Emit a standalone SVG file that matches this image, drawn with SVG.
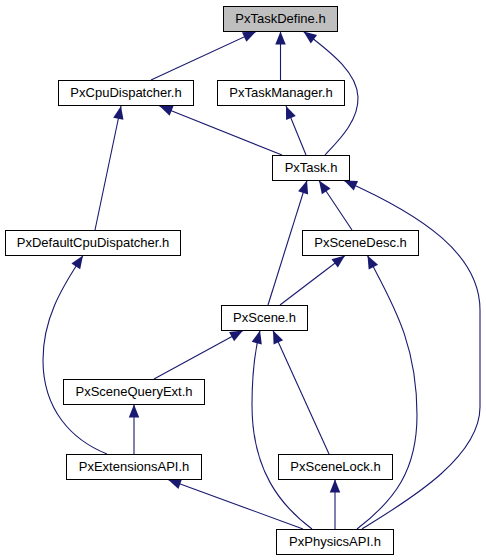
<svg xmlns="http://www.w3.org/2000/svg" width="486" height="560" viewBox="0 0 486 560">
<style>
.n rect{fill:#ffffff;stroke:#000000;stroke-width:1}
.n.root rect{fill:#bfbfbf}
.n text{font-family:"Liberation Sans",Arial,sans-serif;font-size:13px;fill:#000000;text-anchor:middle}
.e path{fill:none;stroke:#191970;stroke-width:1.1;marker-end:url(#ah)}
</style>
<defs>
<marker id="ah" markerUnits="userSpaceOnUse" markerWidth="14" markerHeight="12" refX="13" refY="5.25" orient="auto" overflow="visible">
<polygon points="0,0 13,5.25 0,10.5" fill="#191970"/>
</marker>
</defs>
<rect width="486" height="560" fill="#ffffff"/>
<g id="edges" class="e">
<path d="M151,80 L256,31.5"/>
<path d="M280.5,80 L280.5,31.5"/>
<path d="M325,155 C336,143 359,122 358,97 C357,74 335,55 303.5,31.5"/>
<path d="M282,155 L159.5,106"/>
<path d="M306,155 L286,106"/>
<path d="M95,230 L121,106"/>
<path d="M352,230 L319,180.5"/>
<path d="M268,305 L307,180.5"/>
<path d="M362,529 C400,505 480,460 480,407 L480,310 C480,255 424,216 344,180.5"/>
<path d="M280,305 L345,255.5"/>
<path d="M357,529 C395,500 417,470 417,415 C417,340 390,300 367.5,255.5"/>
<path d="M107,454 C72,440 43,410 43,360 C43,320 60,290 83,255.5"/>
<path d="M154,379 L243,330.5"/>
<path d="M312,529 C280,505 252,470 252,405 C252,370 255,350 260,330.5"/>
<path d="M329,454 L273,330.5"/>
<path d="M134,454 L134,404.5"/>
<path d="M303,529 L168,479.5"/>
<path d="M335,529 L335,479.5"/>
</g>
<g id="PxTaskDefine" class="n root"><rect x="223.5" y="6.5" width="114" height="25"/><text x="280.5" y="22.5">PxTaskDefine.h</text></g>
<g id="PxCpuDispatcher" class="n"><rect x="58.5" y="80.5" width="135" height="25"/><text x="126" y="96.5">PxCpuDispatcher.h</text></g>
<g id="PxTaskManager" class="n"><rect x="217.5" y="80.5" width="127" height="25"/><text x="281" y="96.5">PxTaskManager.h</text></g>
<g id="PxTask" class="n"><rect x="272.5" y="155.5" width="77" height="25"/><text x="311" y="171.5">PxTask.h</text></g>
<g id="PxDefaultCpuDispatcher" class="n"><rect x="5.5" y="230.5" width="175" height="25"/><text x="93" y="246.5">PxDefaultCpuDispatcher.h</text></g>
<g id="PxSceneDesc" class="n"><rect x="302.5" y="230.5" width="116" height="25"/><text x="360.5" y="246.5">PxSceneDesc.h</text></g>
<g id="PxScene" class="n"><rect x="221.5" y="305.5" width="86" height="25"/><text x="264.5" y="321.5">PxScene.h</text></g>
<g id="PxSceneQueryExt" class="n"><rect x="63.5" y="379.5" width="141" height="25"/><text x="134" y="395.5">PxSceneQueryExt.h</text></g>
<g id="PxExtensionsAPI" class="n"><rect x="66.5" y="454.5" width="135" height="25"/><text x="134" y="470.5">PxExtensionsAPI.h</text></g>
<g id="PxSceneLock" class="n"><rect x="278.5" y="454.5" width="114" height="25"/><text x="335.5" y="470.5">PxSceneLock.h</text></g>
<g id="PxPhysicsAPI" class="n"><rect x="276.5" y="529.5" width="117" height="25"/><text x="335" y="545.5">PxPhysicsAPI.h</text></g>
</svg>
